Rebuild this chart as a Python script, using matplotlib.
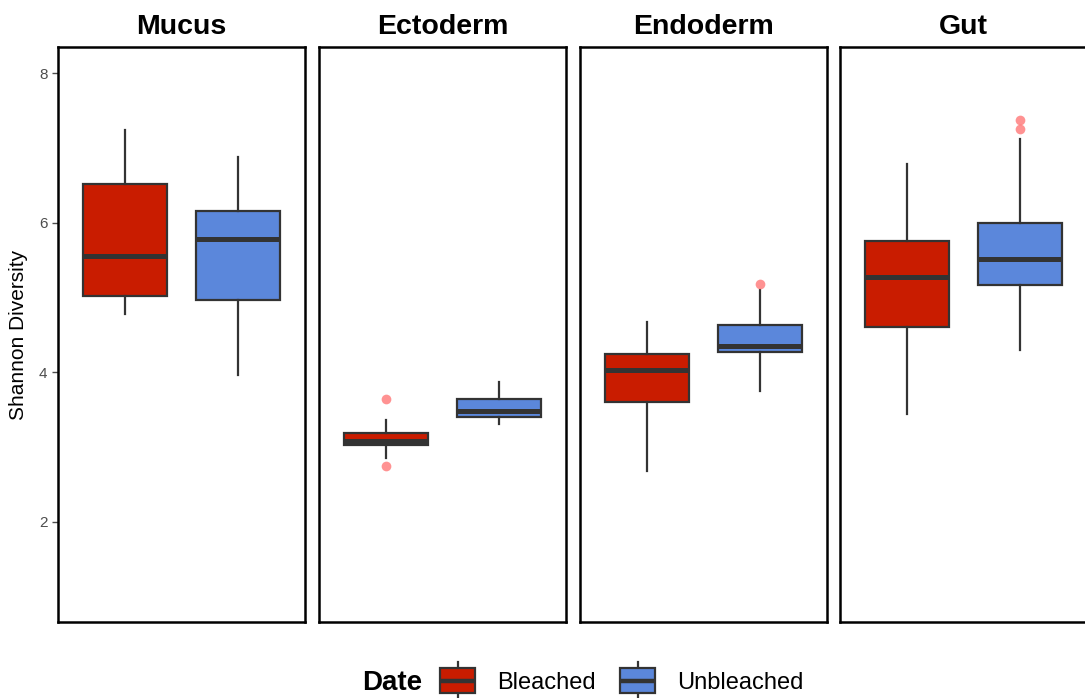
import numpy as np
import matplotlib
matplotlib.use("Agg")
import matplotlib.pyplot as plt
from matplotlib.patches import Rectangle
from matplotlib.lines import Line2D
from matplotlib.legend_handler import HandlerBase

plt.rcParams['font.family'] = ['Liberation Sans', 'DejaVu Sans']

# Shannon diversity summary per compartment (Bleached, Unbleached)
compartments = ["Mucus", "Ectoderm", "Endoderm", "Gut"]
groups = ["Bleached", "Unbleached"]
whislo = [[4.78, 3.96], [2.86, 3.31], [2.68, 3.75], [3.44, 4.30]]
q1     = [[5.02, 4.97], [3.03, 3.40], [3.60, 4.27], [4.61, 5.17]]
med    = [[5.55, 5.78], [3.08, 3.48], [4.03, 4.35], [5.27, 5.52]]
q3     = [[6.52, 6.16], [3.19, 3.64], [4.24, 4.63], [5.76, 6.00]]
whishi = [[7.24, 6.88], [3.36, 3.87], [4.67, 5.10], [6.78, 7.12]]
fliers = [[[], []], [[3.64, 2.74], []], [[], [5.18]], [[], [7.38, 7.25]]]

fills = {"Bleached": "#C91C00", "Unbleached": "#5B87DB"}
edge = "#333333"

W, H = 1085, 698
fig = plt.figure(figsize=(W / 100, H / 100), dpi=100)

panel_x = [58, 319, 580, 840]
panel_w = 247
top, bottom = 47, 622

for i, name in enumerate(compartments):
    ax = fig.add_axes([panel_x[i] / W, 1 - bottom / H,
                       panel_w / W, (bottom - top) / H])
    stats = []
    for j in range(2):
        stats.append(dict(med=med[i][j], q1=q1[i][j], q3=q3[i][j],
                          whislo=whislo[i][j], whishi=whishi[i][j],
                          fliers=fliers[i][j]))
    bp = ax.bxp(stats, positions=[1, 2], widths=0.75, patch_artist=True,
                showcaps=False,
                boxprops=dict(edgecolor=edge, linewidth=1.6),
                medianprops=dict(color=edge, linewidth=3.6, solid_capstyle='butt'),
                whiskerprops=dict(color=edge, linewidth=1.6),
                flierprops=dict(marker='o', markersize=7, markerfacecolor='#FF6E6E',
                                markeredgecolor='none', alpha=0.75))
    for patch, g in zip(bp['boxes'], groups):
        patch.set_facecolor(fills[g])
        patch.set_zorder(2)
    ax.set_xlim(0.4, 2.6)
    ax.set_ylim(0.66, 8.35)
    ax.set_xticks([])
    for sp in ax.spines.values():
        sp.set_linewidth(1.8)
        sp.set_color('black')
    ax.set_title(name, fontsize=20.5, fontweight='bold', pad=9)
    if i == 0:
        ax.set_yticks([2, 4, 6, 8])
        ax.tick_params(axis='y', colors='#4d4d4d', labelsize=11, length=4,
                       width=1, labelcolor='#4d4d4d')
        ax.set_ylabel("Shannon Diversity", fontsize=15, labelpad=8)
    else:
        ax.set_yticks([])


class BoxKey(HandlerBase):
    # small boxplot glyph for the legend
    def create_artists(self, legend, orig_handle, xdescent, ydescent,
                       width, height, fontsize, trans):
        fc = orig_handle.get_facecolor()
        cx = width / 2 - xdescent
        box = Rectangle((-xdescent, -ydescent - 0.1 * height), width, height * 1.2,
                        facecolor=fc, edgecolor=edge, linewidth=1.6, transform=trans)
        mid = -ydescent + height * 0.5
        m = Line2D([-xdescent + 1, width - xdescent - 1], [mid, mid], color=edge,
                   linewidth=3.2, solid_capstyle='butt', transform=trans)
        w1 = Line2D([cx, cx], [-ydescent + 1.1 * height, -ydescent + 1.4 * height],
                    color=edge, linewidth=1.6, transform=trans)
        w2 = Line2D([cx, cx], [-ydescent - 0.1 * height, -ydescent - 0.4 * height],
                    color=edge, linewidth=1.6, transform=trans)
        return [w1, w2, box, m]


handles = [Rectangle((0, 0), 1, 1, facecolor=fills[g]) for g in groups]
fig.text(392 / W, 1 - 683 / H, "Date", fontsize=20, fontweight='bold',
         ha='center', va='center')
fig.legend(handles, groups, handler_map={Rectangle: BoxKey()},
           loc='center left', bbox_to_anchor=(440 / W, 1 - 682 / H),
           ncol=2, frameon=False, fontsize=17, handlelength=1.5,
           handleheight=1.0, handletextpad=0.9, columnspacing=1.05,
           borderaxespad=0, borderpad=0)

fig.savefig("out.png", dpi=100)
